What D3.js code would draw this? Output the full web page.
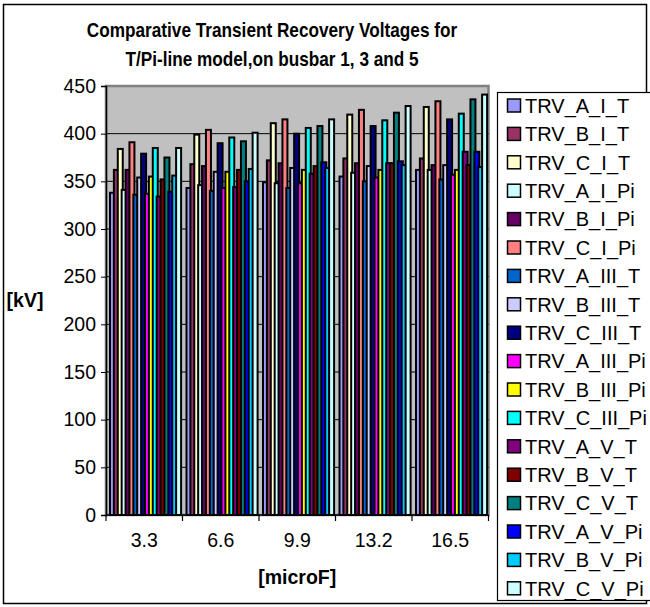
<!DOCTYPE html>
<html>
<head>
<meta charset="utf-8">
<script src="https://cdn.jsdelivr.net/npm/d3@7"></script>
<style>
  body { margin: 0; background: #fff; }
  svg { display: block; font-family: "Liberation Sans", Arial, sans-serif; }
</style>
</head>
<body>
<svg id="chart" width="650" height="607"></svg>
<script>
// categories (capacitance, microF)
var categories = ['3.3', '6.6', '9.9', '13.2', '16.5'];

var seriesNames = [
  'TRV_A_I_T', 'TRV_B_I_T', 'TRV_C_I_T', 'TRV_A_I_Pi', 'TRV_B_I_Pi', 'TRV_C_I_Pi',
  'TRV_A_III_T', 'TRV_B_III_T', 'TRV_C_III_T', 'TRV_A_III_Pi', 'TRV_B_III_Pi', 'TRV_C_III_Pi',
  'TRV_A_V_T', 'TRV_B_V_T', 'TRV_C_V_T', 'TRV_A_V_Pi', 'TRV_B_V_Pi', 'TRV_C_V_Pi'
];

var seriesColors = [
  '#9999FF', '#993366', '#FFFFCC', '#CCFFFF', '#660066', '#FF8080',
  '#0066CC', '#CCCCFF', '#000080', '#FF00FF', '#FFFF00', '#00FFFF',
  '#800080', '#800000', '#008080', '#0000FF', '#00CCFF', '#CCFFFF'
];

// values per category, in series order [kV]
var trv_3_3  = [338, 362, 384, 341, 362, 391, 336, 354, 379, 337, 355, 385, 334, 352, 375, 339, 356, 385];
var trv_6_6  = [343, 368, 399, 346, 366, 404, 340, 360, 390, 343, 360, 396, 344, 362, 392, 350, 363, 401];
var trv_9_9  = [349, 372, 411, 348, 369, 415, 343, 364, 400, 348, 362, 406, 358, 366, 408, 370, 364, 415];
var trv_13_2 = [355, 374, 420, 359, 369, 425, 350, 366, 408, 354, 362, 414, 369, 369, 422, 371, 367, 429];
var trv_16_5 = [362, 374, 428, 362, 367, 434, 352, 367, 415, 357, 362, 421, 381, 367, 436, 381, 365, 441];

var yTicks = [0, 50, 100, 150, 200, 250, 300, 350, 400, 450];

var valuesByCat = [trv_3_3, trv_6_6, trv_9_9, trv_13_2, trv_16_5];

var svg = d3.select('#chart');

// chart border
svg.append('rect')
  .attr('x', 3.5).attr('y', 4.5)
  .attr('width', 643).attr('height', 599)
  .style('fill', '#fff').style('stroke', '#000').style('stroke-width', 1.5);

var plot = {left: 106, right: 488.5, top: 86, bottom: 515};

var x0 = d3.scaleBand().domain(categories).range([plot.left, plot.right]).padding(0);
var x1 = d3.scaleBand().domain(seriesNames).range([4, x0.bandwidth() - 2.5]).padding(0);
var y = d3.scaleLinear().domain([0, 450]).range([plot.bottom, plot.top]);

// plot area
svg.append('rect')
  .attr('x', plot.left).attr('y', plot.top)
  .attr('width', plot.right - plot.left).attr('height', plot.bottom - plot.top)
  .style('fill', '#C0C0C0').style('stroke', '#808080').style('stroke-width', 2.5);

// gridlines
svg.append('g')
  .selectAll('line')
  .data(yTicks.filter(function(d){ return d > 0 && d < 450; }))
  .enter().append('line')
  .attr('x1', plot.left).attr('x2', plot.right)
  .attr('y1', function(d){ return y(d); }).attr('y2', function(d){ return y(d); })
  .style('stroke', '#000').style('stroke-width', 1);

// bars
var rows = [];
valuesByCat.forEach(function(vals, ci){
  vals.forEach(function(v, si){
    rows.push({cat: categories[ci], s: seriesNames[si], color: seriesColors[si], value: v});
  });
});

svg.append('g')
  .selectAll('rect')
  .data(rows)
  .enter().append('rect')
  .attr('x', function(d){ return x0(d.cat) + x1(d.s); })
  .attr('y', function(d){ return y(d.value); })
  .attr('width', x1.bandwidth() + 1.1)
  .attr('height', function(d){ return y(0) - y(d.value); })
  .style('fill', function(d){ return d.color; })
  .style('stroke', '#000').style('stroke-width', 2);

// y axis
var yAxis = svg.append('g')
  .attr('transform', 'translate(' + plot.left + ',0)')
  .call(d3.axisLeft(y).tickValues(yTicks).tickSize(5).tickPadding(5));
yAxis.select('.domain').style('stroke', '#000').style('stroke-width', 1.5);
yAxis.selectAll('text').style('font-size', '19.5px').style('fill', '#000');

// x axis, ticks on the category boundaries
var xAxis = svg.append('g')
  .attr('transform', 'translate(0,' + plot.bottom + ')');
xAxis.append('line')
  .attr('x1', plot.left).attr('x2', plot.right)
  .style('stroke', '#000').style('stroke-width', 1.5);
var bounds = categories.map(function(c){ return x0(c); }).concat([plot.right]);
xAxis.selectAll('.tk').data(bounds).enter().append('line')
  .attr('x1', function(d){ return d; }).attr('x2', function(d){ return d; })
  .attr('y1', 0).attr('y2', 6)
  .style('stroke', '#000').style('stroke-width', 1.2);
xAxis.selectAll('text').data(categories).enter().append('text')
  .attr('x', function(d){ return x0(d) + x0.bandwidth() / 2; })
  .attr('y', 32)
  .attr('text-anchor', 'middle')
  .style('font-size', '19.5px')
  .text(function(d){ return d; });

// title (a bit condensed, like the source)
var title = ['Comparative Transient Recovery Voltages for', 'T/Pi-line model,on busbar 1, 3 and 5'];
svg.append('g').selectAll('text').data(title).enter().append('text')
  .attr('transform', function(d, i){ return 'translate(272,' + (37 + i * 28.5) + ') scale(0.86,1)'; })
  .attr('text-anchor', 'middle')
  .style('font-size', '20px').style('font-weight', 'bold')
  .text(function(d){ return d; });

svg.append('text')
  .attr('x', 25).attr('y', 307)
  .attr('text-anchor', 'middle')
  .style('font-size', '19.5px').style('font-weight', 'bold')
  .text('[kV]');

svg.append('text')
  .attr('x', (plot.left + plot.right) / 2).attr('y', 584)
  .attr('text-anchor', 'middle')
  .style('font-size', '19.5px').style('font-weight', 'bold')
  .text('[microF]');

// legend
var legend = svg.append('g');
legend.append('rect')
  .attr('x', 497.5).attr('y', 92.5)
  .attr('width', 200).attr('height', 508)
  .style('fill', '#fff').style('stroke', '#000').style('stroke-width', 1.2);

var item = legend.selectAll('.item').data(seriesNames).enter().append('g')
  .attr('transform', function(d, i){ return 'translate(0,' + (105.5 + i * 28.4) + ')'; });
item.append('rect')
  .attr('x', 507.5).attr('y', -6.5)
  .attr('width', 13).attr('height', 13)
  .style('fill', function(d, i){ return seriesColors[i]; })
  .style('stroke', '#000').style('stroke-width', 1.5);
item.append('text')
  .attr('x', 525).attr('y', 7.2)
  .style('font-size', '20px')
  .text(function(d){ return d; });
</script>
</body>
</html>
